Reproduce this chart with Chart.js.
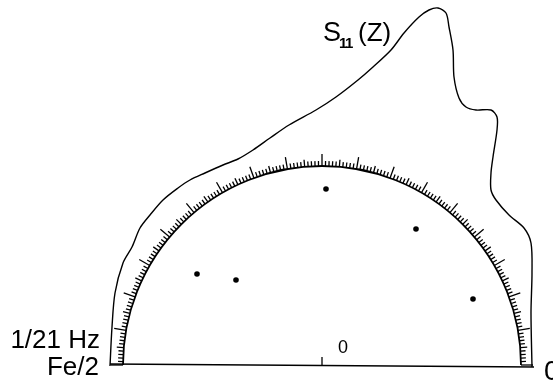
<!DOCTYPE html>
<html lang="en">
<head>
  <meta charset="UTF-8">
  <title>S11(Z)</title>
  <script src="https://cdn.jsdelivr.net/npm/chart.js"></script>
  <style>
    html, body { margin: 0; padding: 0; background: #fff; }
    canvas { display: block; }
  </style>
</head>
<body>
  <canvas id="chart" width="553" height="381"></canvas>

  <script>
    // curve, units = arc radius / 199
    const curveX = [-212, -210, -207, -199, -190, -182, -172, -159, -144, -132, -117, -99, -84, -69, -52, -33, -6, 14, 36, 51, 69, 82, 97, 107, 116, 124, 127, 131, 132, 137, 144, 154, 169, 175, 175, 171, 169, 169, 174, 187, 202, 209, 210, 209, 210];
    const curveY = [-1, 38, 72, 102, 118, 137, 150, 165, 177, 185, 192, 200, 206, 215, 227, 240, 255, 268, 285, 298, 315, 332, 348, 355, 357, 352, 338, 315, 288, 267, 258, 255, 255, 248, 235, 208, 192, 175, 165, 150, 137, 122, 92, 52, -2];
    const dotX = [-125, -86, 4, 94, 151];
    const dotY = [91, 85, 176, 136, 66];
    const baseX = [-212, 212];
    const baseY = [1, -2];

    const arcRadius = 199;
    const majorStep = 10;
    const minorPerMajor = 10;

    function label(ctx, x, y, text, font, vx, vy, spacing) {
      ctx.font = font;
      ctx.letterSpacing = spacing || '0px';
      ctx.fillText(text, x.getPixelForValue(vx), y.getPixelForValue(vy));
    }

    // protractor arc and the 0 tick, drawn through the chart's scales
    const arcPlugin = {
      id: 'arc',
      afterDatasetsDraw(chart) {
        const { ctx, scales: { x, y } } = chart;
        ctx.save();
        ctx.strokeStyle = '#000';
        ctx.lineWidth = 1.8;
        ctx.beginPath();
        ctx.arc(x.getPixelForValue(0), y.getPixelForValue(0), arcRadius, Math.PI, 2 * Math.PI);
        ctx.stroke();

        ctx.lineWidth = 1.3;
        const n = 180 / majorStep * minorPerMajor;
        for (let i = 0; i <= n; i++) {
          const a = Math.PI * i / n;
          let len = 5;
          if (i % minorPerMajor === 0) len = 12;
          else if (i % (minorPerMajor / 2) === 0) len = 7;
          ctx.beginPath();
          ctx.moveTo(x.getPixelForValue(arcRadius * Math.cos(a)), y.getPixelForValue(arcRadius * Math.sin(a)));
          ctx.lineTo(x.getPixelForValue((arcRadius + len) * Math.cos(a)), y.getPixelForValue((arcRadius + len) * Math.sin(a)));
          ctx.stroke();
        }

        ctx.beginPath();
        ctx.moveTo(x.getPixelForValue(0), y.getPixelForValue(0));
        ctx.lineTo(x.getPixelForValue(0), y.getPixelForValue(8));
        ctx.stroke();

        // labels
        ctx.fillStyle = '#000';
        ctx.textBaseline = 'alphabetic';
        label(ctx, x, y, 'S', '27px "Liberation Sans"', 1, 324);
        label(ctx, x, y, '11', 'bold 15px "Liberation Sans"', 17, 317, '-1.5px');
        label(ctx, x, y, '(Z)', '26px "Liberation Sans"', 36, 324);
        ctx.textAlign = 'right';
        label(ctx, x, y, '1/21 Hz', '26px "Liberation Sans"', -222, 17);
        label(ctx, x, y, 'Fe/2', '26px "Liberation Sans"', -223, -10);
        ctx.textAlign = 'left';
        label(ctx, x, y, '0', '18px "Liberation Sans"', 16, 12);
        label(ctx, x, y, '0', '28px "Liberation Sans"', 222, -15);
        ctx.restore();
      }
    };

    new Chart(document.getElementById('chart').getContext('2d'), {
      type: 'scatter',
      data: {
        datasets: [
          {
            data: curveX.map((v, i) => ({ x: v, y: curveY[i] })),
            showLine: true,
            borderColor: '#000',
            borderWidth: 1.4,
            tension: 0.3,
            pointRadius: 0
          },
          {
            data: baseX.map((v, i) => ({ x: v, y: baseY[i] })),
            showLine: true,
            borderColor: '#000',
            borderWidth: 1.6,
            pointRadius: 0
          },
          {
            data: dotX.map((v, i) => ({ x: v, y: dotY[i] })),
            backgroundColor: '#000',
            borderWidth: 0,
            pointRadius: 2.8
          }
        ]
      },
      options: {
        responsive: false,
        animation: false,
        layout: { padding: 0, autoPadding: false },
        plugins: { legend: { display: false }, tooltip: { enabled: false } },
        scales: {
          x: { display: false, min: -322, max: 231 },
          y: { display: false, min: -16, max: 365 }
        }
      },
      plugins: [arcPlugin]
    });
  </script>
</body>
</html>
